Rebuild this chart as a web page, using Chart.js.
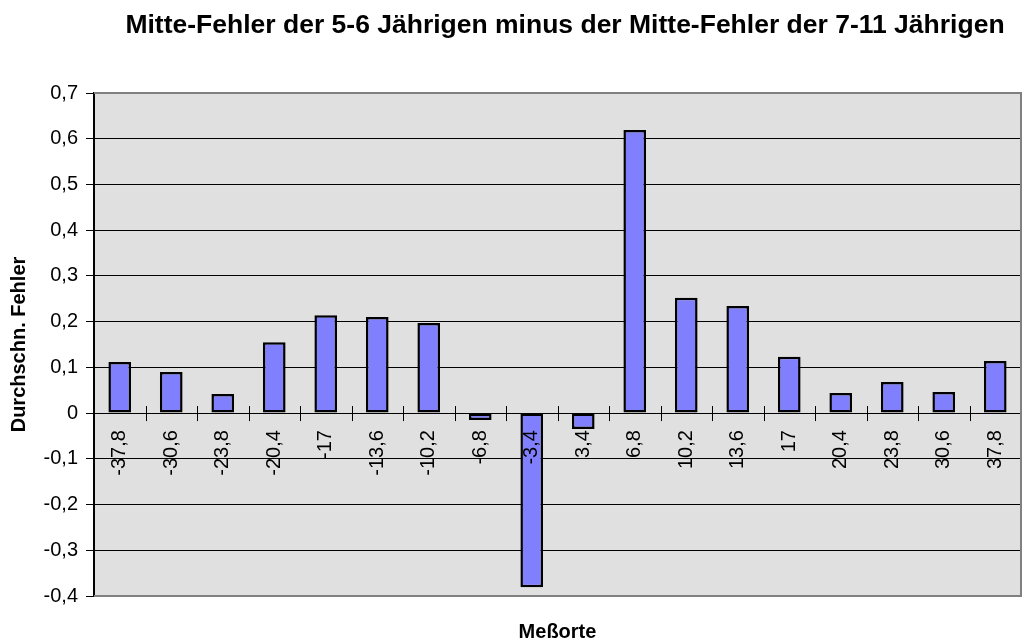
<!DOCTYPE html>
<html>
<head>
<meta charset="utf-8">
<script src="https://cdn.jsdelivr.net/npm/chart.js@4.4.1/dist/chart.umd.min.js"></script>
<style>
  html, body { margin: 0; padding: 0; background: #fff; }
</style>
</head>
<body>
<canvas id="chart" width="1029" height="640"></canvas>
<script>
// Messorte (x categories) and the difference of the mean errors
const categories = ["-37,8", "-30,6", "-23,8", "-20,4", "-17", "-13,6", "-10,2", "-6,8", "-3,4",
  "3,4", "6,8", "10,2", "13,6", "17", "20,4", "23,8", "30,6", "37,8"];
const values = [0.112, 0.090, 0.042, 0.155, 0.214, 0.210, 0.197, -0.015, -0.381,
  -0.035, 0.619, 0.252, 0.234, 0.123, 0.044, 0.068, 0.046, 0.114];

const yMin = -0.4;
const yMax = 0.7;
const yStep = 0.1;

const chartTitle = "Mitte-Fehler der 5-6 Jährigen minus der Mitte-Fehler der 7-11 Jährigen";
const xTitle = "Meßorte";
const yTitle = "Durchschn. Fehler";

const FONT = "'Liberation Sans', Arial, sans-serif";

// gray plot background, frame, ticks on the zero line, rotated labels, titles
const excelStyle = {
  id: "excelStyle",
  beforeDraw(chart) {
    const { ctx, chartArea: a } = chart;
    ctx.save();
    ctx.fillStyle = "#E0E0E0";
    ctx.fillRect(a.left, a.top, a.right - a.left, a.bottom - a.top);
    ctx.restore();
  },
  afterDraw(chart) {
    const { ctx, chartArea: a } = chart;
    const xs = chart.scales.x;
    const ys = chart.scales.y;
    const zero = ys.getPixelForValue(0);
    ctx.save();

    // frame
    ctx.strokeStyle = "#808080";
    ctx.lineWidth = 2;
    ctx.beginPath();
    ctx.moveTo(a.left, a.top);
    ctx.lineTo(a.right, a.top);
    ctx.lineTo(a.right, a.bottom);
    ctx.lineTo(a.left, a.bottom);
    ctx.stroke();

    // tick marks between categories
    ctx.strokeStyle = "#000";
    ctx.lineWidth = 1;
    ctx.beginPath();
    for (let i = 1; i < categories.length; i++) {
      const x = Math.round((xs.getPixelForValue(i - 1) + xs.getPixelForValue(i)) / 2) + 0.5;
      ctx.moveTo(x, zero - 7);
      ctx.lineTo(x, zero + 8);
    }
    ctx.stroke();

    // category labels
    ctx.fillStyle = "#000";
    ctx.font = "20px " + FONT;
    ctx.textAlign = "right";
    ctx.textBaseline = "middle";
    categories.forEach((c, i) => {
      ctx.save();
      ctx.translate(xs.getPixelForValue(i), zero + 17);
      ctx.rotate(-Math.PI / 2);
      ctx.fillText(c, 0, 0);
      ctx.restore();
    });

    // titles
    ctx.textAlign = "center";
    ctx.textBaseline = "alphabetic";
    ctx.font = "bold 26.5px " + FONT;
    ctx.fillText(chartTitle, 565, 33);
    ctx.font = "bold 20px " + FONT;
    ctx.fillText(xTitle, (a.left + a.right) / 2, 638);
    ctx.restore();
  }
};

const chart = new Chart(document.getElementById("chart").getContext("2d"), {
  type: "bar",
  data: {
    labels: categories,
    datasets: [
      {
        label: yTitle,
        data: values,
        backgroundColor: "#8080FF",
        borderColor: "#000",
        borderWidth: 2.5,
        borderSkipped: false,
        categoryPercentage: 1,
        barPercentage: 0.44,
      },
    ],
  },
  options: {
    responsive: false,
    animation: false,
    devicePixelRatio: 1,
    layout: { padding: { left: 0, right: 8, top: 93, bottom: 44 } },
    plugins: {
      legend: { display: false },
      title: { display: false },
      tooltip: { enabled: false },
    },
    scales: {
      x: { display: false },
      y: {
        min: yMin,
        max: yMax,
        afterFit: (scale) => { scale.width = 94; },
        ticks: {
          stepSize: yStep,
          color: "#000",
          font: { family: FONT, size: 20 },
          padding: 8,
          callback: (v) => String(Math.round(v * 10) / 10).replace(".", ","),
        },
        grid: { color: "#000", lineWidth: 1, tickLength: 8, tickColor: "#000" },
        border: { color: "#000", width: 2 },
        title: {
          display: true,
          text: yTitle,
          color: "#000",
          font: { family: FONT, size: 20, weight: "bold" },
          padding: { top: 7, bottom: 0 },
        },
      },
    },
  },
  plugins: [excelStyle],
});
</script>
</body>
</html>
